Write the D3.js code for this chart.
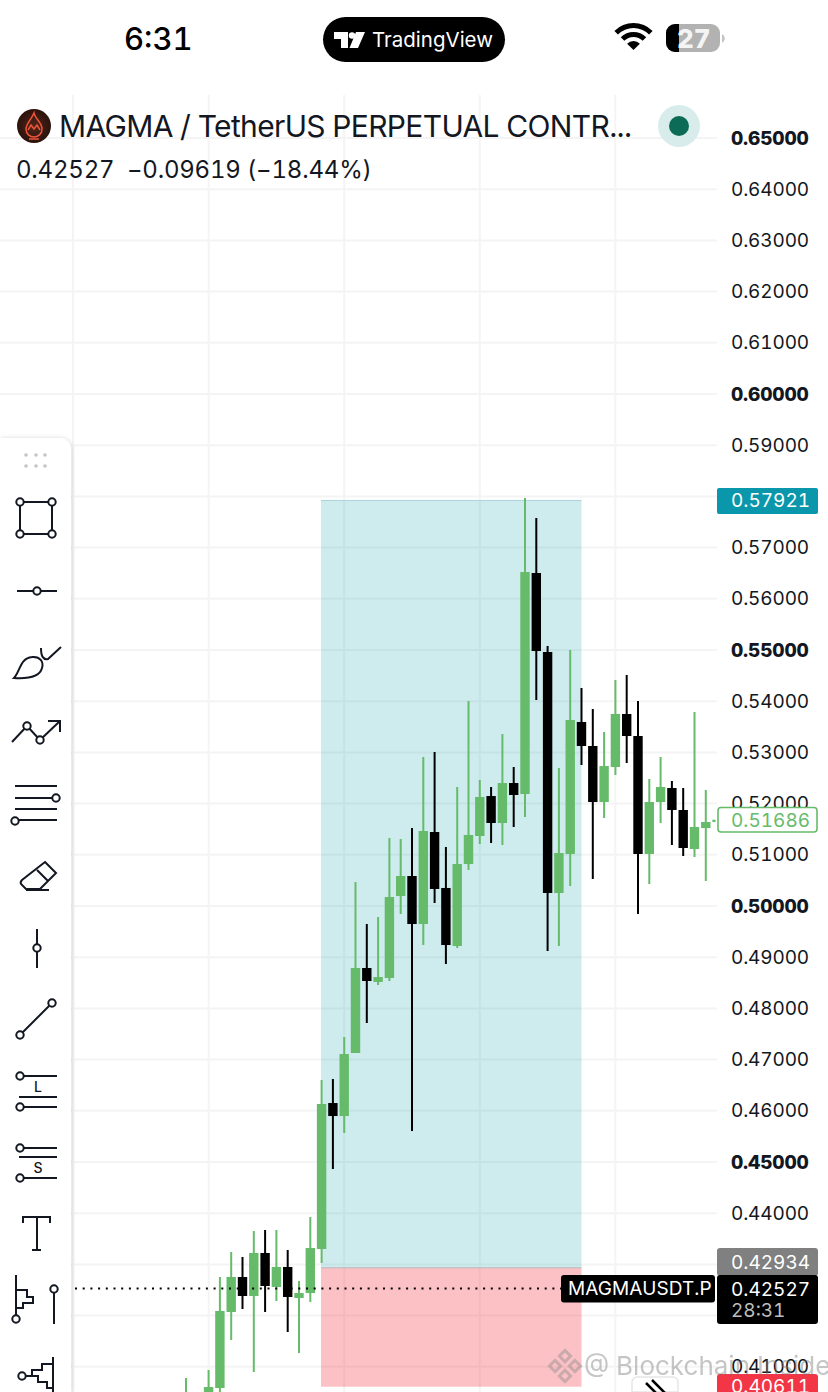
<!DOCTYPE html>
<html><head><meta charset="utf-8">
<script src="https://cdn.jsdelivr.net/npm/d3@7/dist/d3.min.js"></script>
<style>
html,body{margin:0;padding:0;background:#fff;overflow:hidden}
svg{display:block}
text{font-family:Inter,"Noto Sans",sans-serif;font-variant-numeric:tabular-nums;white-space:pre}
</style></head><body>
<script>
const barIndex=[0,2,3,4,5,6,7,8,9,10,11,12,13,14,15,16,17,18,19,20,21,22,23,24,25,26,27,28,29,30,31,32,33,34,35,36,37,38,39,40,41,42,43,44,45,46,47];
const opens =[.40352,.40352,.40586,.4207,.42754,.42383,.43223,.42559,.4295,.42344,.42441,.43301,.46152,.45898,.47129,.48789,.48516,.48594,.50195,.50586,.49648,.51445,.50352,.49219,.5082,.51367,.52148,.51621,.52402,.52187,.56504,.54961,.50254,.51016,.53594,.53125,.52031,.52715,.5375,.5332,.51016,.52031,.52305,.51875,.51113,.51523,.5164];
const closes=[.40449,.40605,.4209,.42754,.42383,.43223,.42578,.4295,.42363,.42441,.4332,.46133,.45898,.47109,.48789,.48535,.48613,.50176,.50586,.49648,.51465,.50332,.49238,.5082,.51387,.52129,.51621,.52402,.52168,.56523,.5498,.50254,.51035,.53633,.53125,.52031,.52734,.5375,.5332,.51016,.52031,.52324,.51875,.51133,.51543,.51641,.51686];
const highs =[.40781,.40937,.42754,.43242,.43145,.43652,.43672,.43672,.43281,.42676,.43926,.46602,.46621,.47441,.50469,.49648,.49785,.51328,.51309,.51523,.5291,.53008,.51152,.52324,.54004,.52461,.52324,.53359,.52715,.57969,.57578,.55078,.52695,.55,.54258,.53848,.53398,.54414,.54512,.54004,.5248,.5291,.52441,.52305,.53789,.52266,.51686];
const lows  =[.40352,.40352,.40449,.41523,.42129,.40898,.4207,.42285,.4168,.4127,.42266,.43027,.44863,.45566,.47129,.47715,.48457,.48535,.49844,.45605,.49238,.50059,.48867,.4918,.50703,.51211,.5123,.51191,.51543,.51738,.54023,.49121,.49219,.50391,.52754,.50527,.51719,.52559,.52793,.49844,.5043,.51621,.51191,.50977,.50957,.50488,.5164];
const priceTicks=[.65,.64,.63,.62,.61,.6,.59,.58,.57,.56,.55,.54,.53,.52,.51,.5,.49,.48,.47,.46,.45,.44,.43,.42,.41];
const boldTicks=[.65,.6,.55,.5,.45];
const timeTicks=[-10,2,14,26,38];
const entryPrice=.42934, targetPrice=.57921, stopPrice=.40611, lastPrice=.42527, seriesLast=.51686;
const symbolLine="MAGMA / TetherUS PERPETUAL CONTR...";
const quoteLine="0.42527  \u22120.09619 (\u221218.44%)";

const UP="#66bb6a",DOWN="#000";
const W=828,H=1392,PANE=717;
const y=d3.scaleLinear().domain([.65,.45]).range([138,1162]);
const x=d3.scaleLinear().domain([0,1]).range([186,197.3]);
const svg=d3.select("body").append("svg").attr("width",W).attr("height",H).attr("viewBox",`0 0 ${W} ${H}`);
const defs=svg.append("defs");
defs.append("clipPath").attr("id","pane").append("rect").attr("x",0).attr("y",0).attr("width",715.5).attr("height",H);
const sh=defs.append("filter").attr("id","soft").attr("x","-30%").attr("y","-5%").attr("width","160%").attr("height","110%");
sh.append("feDropShadow").attr("dx",1).attr("dy",0).attr("stdDeviation",2).attr("flood-color","#000").attr("flood-opacity",.14);

// grid
const grid=svg.append("g");
grid.selectAll(".h").data(priceTicks).join("line").attr("x1",0).attr("x2",PANE)
  .attr("y1",d=>y(d)).attr("y2",d=>y(d)).attr("stroke","#f4f4f4").attr("stroke-width",2);
grid.selectAll(".v").data(timeTicks).join("line").attr("x1",d=>x(d)).attr("x2",d=>x(d))
  .attr("y1",95).attr("y2",H).attr("stroke","#f4f4f4").attr("stroke-width",2);

// long position tool
const boxL=x(12)-.6,boxR=581.5;
svg.append("rect").attr("x",boxL).attr("width",boxR-boxL).attr("y",y(targetPrice)).attr("height",y(entryPrice)-y(targetPrice))
  .attr("fill","rgba(8,153,170,.2)");
svg.append("rect").attr("x",boxL).attr("width",boxR-boxL).attr("y",y(entryPrice)).attr("height",y(stopPrice)-y(entryPrice))
  .attr("fill","rgba(242,54,69,.31)");
svg.append("line").attr("x1",boxL).attr("x2",boxR).attr("y1",y(targetPrice)).attr("y2",y(targetPrice)).attr("stroke","#a9d4d8").attr("stroke-width",1);
svg.append("line").attr("x1",boxL).attr("x2",boxR).attr("y1",y(entryPrice)).attr("y2",y(entryPrice)).attr("stroke","#b9b9bd").attr("stroke-width",1);

// candles
const bars=barIndex.map((b,i)=>({b,o:opens[i],c:closes[i],h:highs[i],l:lows[i]}));
const cg=svg.append("g").attr("clip-path","url(#pane)");
const col=d=>d.c>=d.o?UP:DOWN;
cg.selectAll(".w").data(bars).join("line").attr("x1",d=>x(d.b)).attr("x2",d=>x(d.b))
  .attr("y1",d=>y(d.h)).attr("y2",d=>y(d.l)).attr("stroke",col).attr("stroke-width",2);
cg.selectAll(".b").data(bars).join("rect").attr("x",d=>x(d.b)-4.7).attr("width",9.4)
  .attr("y",d=>y(Math.max(d.o,d.c))).attr("height",d=>Math.max(1,Math.abs(y(d.o)-y(d.c)))).attr("fill",col);

// last price line
svg.append("line").attr("x1",75).attr("x2",562).attr("y1",y(lastPrice)).attr("y2",y(lastPrice))
  .attr("stroke","#000").attr("stroke-width",2).attr("stroke-dasharray","2 5.7");

// axis
const fmt=d3.format(".5f");
const axis=d3.axisRight(y).tickValues(priceTicks).tickFormat(fmt).tickSize(0).tickPadding(0);
const ag=svg.append("g").attr("transform","translate(731,0)").call(axis);
ag.select(".domain").remove();
ag.selectAll("text").attr("font-size",19).attr("fill","#131722")
  .style("font-family","Inter").attr("letter-spacing",-.15)
  .attr("font-weight",d=>boldTicks.includes(d)?800:400);

// price labels
function tag(x0,y0,w,h,fill,r,stroke){return svg.append("rect").attr("x",x0).attr("y",y0).attr("width",w).attr("height",h).attr("rx",r||2).attr("fill",fill).attr("stroke",stroke||"none").attr("stroke-width",stroke?1.6:0);}
function lab(t,x0,y0,fill,size,w){return svg.append("text").attr("x",x0).attr("y",y0).attr("fill",fill).attr("font-size",size||19).attr("font-weight",w||400).text(t);}
tag(717,488,101,26,"#0a97ab");
lab(fmt(targetPrice),731,y(targetPrice)+7,"#fff");
tag(718,807.5,99,24.5,"#fff",3,UP);
lab(fmt(seriesLast),731,y(seriesLast)+7,UP);
tag(717,1248,101,28,"#808080",3);
lab(fmt(entryPrice),731,1269,"#fff");
tag(717,1275,101,49,"#000",3);
lab(fmt(lastPrice),731,1296,"#fff");
lab("28:31",731,1317,"#bdbdbd");
tag(561,1275,154,27.5,"#000",3);
lab("MAGMAUSDT.P",568,1295,"#fff",19).attr("letter-spacing",.1);
tag(717,1374,101,24,"#f23645",3);
lab(fmt(stopPrice),731,1393,"#fff");

// status bar
lab("6:31",124,50,"#000",31,500);
svg.append("rect").attr("x",323).attr("y",17).attr("width",182).attr("height",45).attr("rx",22.5).attr("fill","#000");
svg.append("path").attr("d","M334,32H348V48H341V39H334Z M356,32H365L358,48H349.5Z").attr("fill","#fff");
svg.append("circle").attr("cx",352).attr("cy",35.5).attr("r",3.2).attr("fill","#fff");
lab("TradingView",372,47,"#fff",20.5,400);
const arc=d3.arc().startAngle(-Math.PI/4).endAngle(Math.PI/4);
const wifi=svg.append("g").attr("transform","translate(633.5,50)").attr("fill","#000");
[[0,9],[13,18],[22,27]].forEach(r=>wifi.append("path").attr("d",arc({innerRadius:r[0],outerRadius:r[1]})));
svg.append("rect").attr("x",666).attr("y",24).attr("width",54).attr("height",28).attr("rx",9).attr("fill","#b2b2b2");
svg.append("path").attr("d","M679,24H675A9,9 0 0 0 666,33V43A9,9 0 0 0 675,52H679Z").attr("fill","#000");
svg.append("path").attr("d","M722,34A5,5 0 0 1 722,43Z").attr("fill","#c4c4c4");
lab("27",677,48,"#f4f4f4",26,800);

// header
const lg=defs.append("radialGradient").attr("id","logo");
lg.append("stop").attr("offset","0").attr("stop-color","#52261a");
lg.append("stop").attr("offset","1").attr("stop-color","#2b130c");
svg.append("circle").attr("cx",34).attr("cy",126).attr("r",17).attr("fill","url(#logo)");
svg.append("path").attr("d","M34,113 C35,119 42,122 42,129 C42,134 38,137 34,137 C30,137 26,134 26,129 C26,124 31,120 34,113 Z M28,130 L31,125 L34,129 L37,125 L40,130 M29,139 H39")
  .attr("fill","none").attr("stroke","#f0553a").attr("stroke-width",1.5);
lab(symbolLine,59,137,"#131722",30).attr("letter-spacing",-.65);
lab(quoteLine,16,178,"#131722",24).attr("letter-spacing",-.2);
svg.append("circle").attr("cx",679).attr("cy",126).attr("r",21).attr("fill","#d8ecec");
svg.append("circle").attr("cx",679).attr("cy",126).attr("r",10).attr("fill","#0b6b57");

// toolbar
svg.append("path").attr("d","M0,438H60A11,11 0 0 1 71,449V1392H0Z").attr("fill","#fff").attr("filter","url(#soft)");
const dots=svg.append("g").attr("fill","#c4c4c4");
[26,36,45].forEach(a=>[455,466].forEach(b=>dots.append("circle").attr("cx",a).attr("cy",b).attr("r",1.8)));
const ic=svg.append("g").attr("fill","none").attr("stroke","#131722").attr("stroke-width",2);
const P=d=>ic.append("path").attr("d",d);
const C=(a,b)=>ic.append("circle").attr("cx",a).attr("cy",b).attr("r",3.7).attr("fill","#fff");
P("M20,502H52V534H20Z");[[20,502],[52,502],[20,534],[52,534]].forEach(p=>C(...p));
P("M17,591H57");C(37,591);
P("M14,678C20,672 20,658 32,657C40,656 44,662 42,668C40,676 30,679 14,678Z");
P("M41,648C41,656 43,660 48,659L61,647");
P("M12,742L27,726L40,740L60,721M48,721H60V732");C(27,726);C(40,740);
P("M15,786H57M15,798H52M15,809H57M19,820H57");C(56,798);C(15,821);
P("M45,862L56,873L40,889H26L21,884Q20,882 22,880ZM37,870L48,881M26,890H49");
P("M37,929V968");C(37,948);
P("M20,1035L52,1003");C(20,1035);C(52,1003);
P("M24,1076H57M19,1097H57M24,1107H57");C(20,1076);C(20,1107);
P("M24,1148H57M19,1157H57M24,1178H57");C(20,1148);C(20,1178);
P("M23,1223V1217H50V1223M37,1217V1250M32,1250H41");
P("M16,1275V1315M16,1290H27V1297H33V1303H23V1308H16");C(16,1319);
P("M54,1293V1324");C(54,1289);
P("M53,1357V1392M26,1376H32M53,1364H42V1370H32V1376H38V1382H47V1388H53");C(22,1376);
lab("L",38,1092,"#131722",14,500).attr("text-anchor","middle");
lab("S",38,1173,"#131722",14,500).attr("text-anchor","middle");

// collapse button
svg.append("path").attr("d","M632,1392V1382A5,5 0 0 1 637,1377H673A5,5 0 0 1 678,1382V1392Z").attr("fill","#fff").attr("stroke","#e6e6e6").attr("stroke-width",1.5);
svg.append("path").attr("d","M646,1383L660,1397M652,1380L666,1394").attr("stroke","#000").attr("stroke-width",2.5);

// watermark
const wm=svg.append("g").attr("opacity",.42);
const bn=wm.append("g").attr("transform","translate(565,1366) rotate(45)").attr("fill","none").attr("stroke","#8a8a8a").attr("stroke-width",3);
[[-11,-11],[3,-11],[-11,3],[3,3]].forEach(p=>bn.append("rect").attr("x",p[0]).attr("y",p[1]).attr("width",8).attr("height",8));
wm.append("text").attr("x",584).attr("y",1375).attr("font-size",26).attr("fill","#777").text("@ Blockchain Insider");
</script>
</body></html>
